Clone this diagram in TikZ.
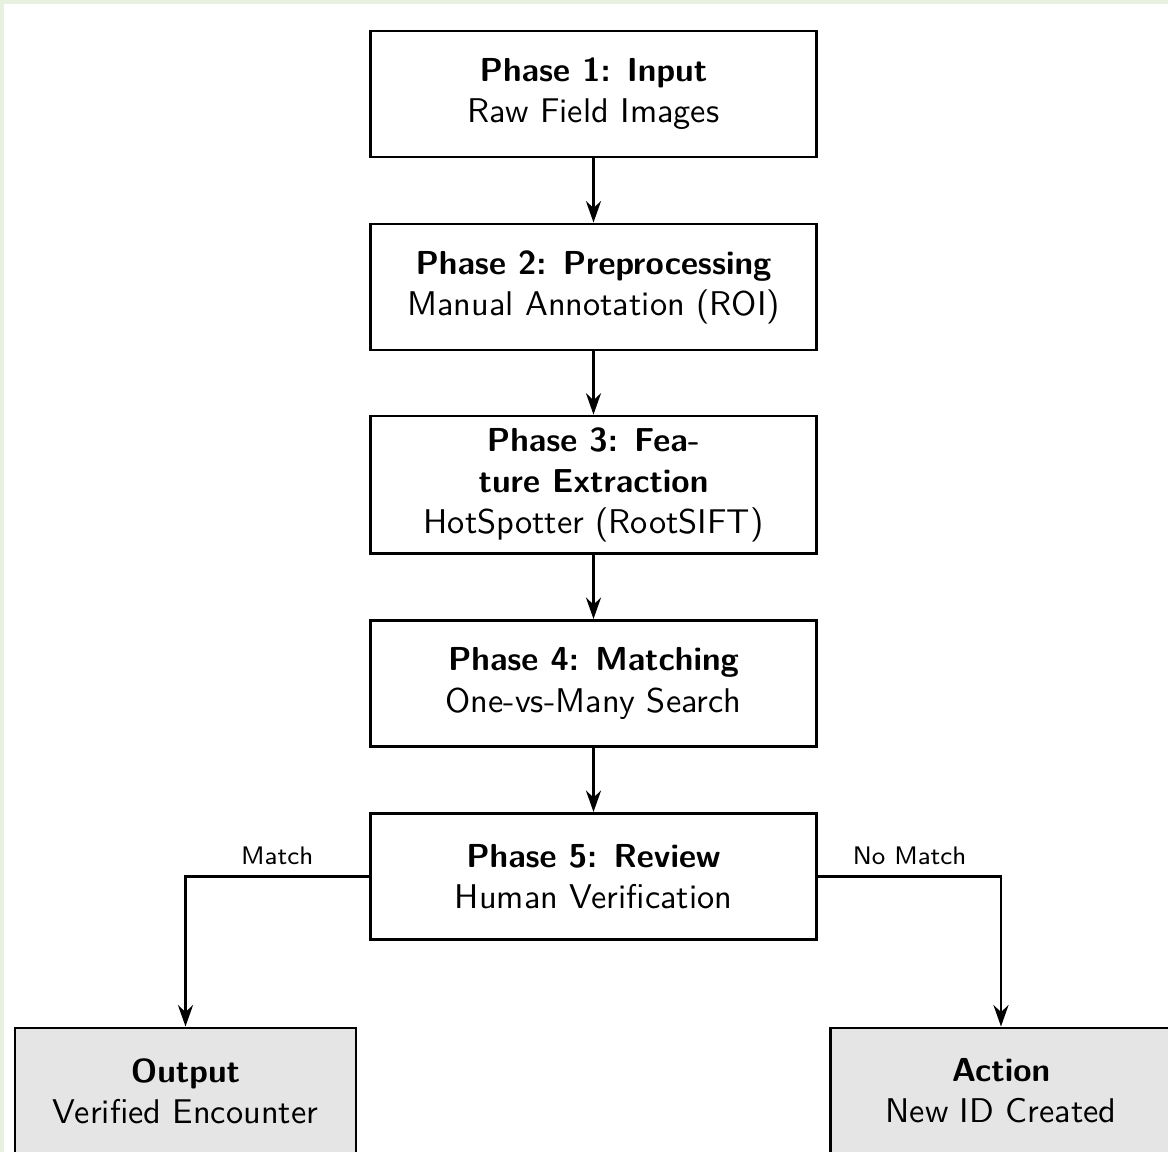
\documentclass[tikz,border=0pt]{standalone}
\usetikzlibrary{arrows.meta}
\definecolor{framegreen}{RGB}{232,240,224}
\definecolor{boxgray}{RGB}{229,229,229}
\newcommand\hd[1]{{\fontsize{9.3pt}{11.5pt}\selectfont\bfseries #1}}
\begin{document}
\begin{tikzpicture}[x=0.28pt,y=-0.28pt,
  font=\sffamily\fontsize{9.6pt}{11.5pt}\selectfont,
  phase/.style={draw=black, line width=0.8pt, fill=white, minimum width=125pt, minimum height=35.3pt, align=center, inner sep=0pt},
  result/.style={draw=black, line width=0.8pt, fill=boxgray, minimum width=95.5pt, minimum height=35.3pt, align=center, inner sep=0pt},
  flow/.style={line width=0.8pt, -{Stealth[length=6pt,width=4.2pt]}},
  lbl/.style={font=\sffamily\fontsize{7.1pt}{8.5pt}\selectfont, above, inner sep=3pt}]
\useasboundingbox (0,0) rectangle (1168,1152);
\fill[framegreen] (0,0) rectangle (1168,1152);
\fill[white] (4,4) rectangle (1168,1152);

\node[phase] (p1) at (593.5,94) {\hd{Phase 1: Input}\\Raw Field Images};
\node[phase] (p2) at (593.5,287) {\hd{Phase 2: Preprocessing}\\Manual Annotation (ROI)};
\node[phase, minimum height=38.6pt] (p3) at (593.5,485) {\hd{Phase 3: Fea-}\\\hd{ture Extraction}\\HotSpotter (RootSIFT)};
\node[phase] (p4) at (593.5,683.5) {\hd{Phase 4: Matching}\\One-vs-Many Search};
\node[phase] (p5) at (593.5,876.5) {\hd{Phase 5: Review}\\Human Verification};
\node[result] (out) at (185.5,1091) {\hd{Output}\\Verified Encounter};
\node[result] (act) at (1001,1091) {\hd{Action}\\New ID Created};

\draw[flow] (p1) -- (p2);
\draw[flow] (p2) -- (p3);
\draw[flow] (p3) -- (p4);
\draw[flow] (p4) -- (p5);
\draw[flow] (p5.west) -- node[lbl] {Match} (p5.west -| out.north) -- (out.north);
\draw[flow] (p5.east) -- node[lbl] {No Match} (p5.east -| act.north) -- (act.north);
\end{tikzpicture}
\end{document}
